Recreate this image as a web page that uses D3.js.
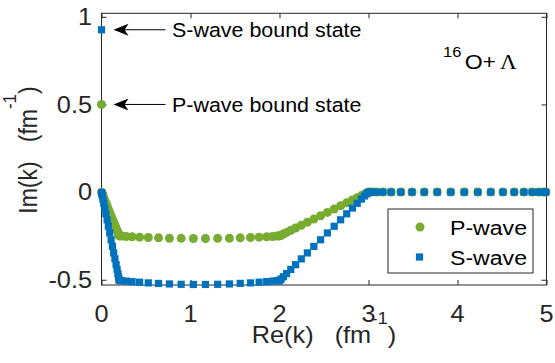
<!DOCTYPE html>
<html><head><meta charset="utf-8">
<script src="https://cdn.jsdelivr.net/npm/d3@7"></script>
<style>body{margin:0;background:#fff}svg{display:block}</style>
</head><body>
<svg id="c" width="555" height="363"></svg>
<script>
// ---- data ----
const xTicks = [0, 1, 2, 3, 4, 5];
const xTickLabels = ["0", "1", "2", "3", "4", "5"];
const yTicks = [-0.5, 0, 0.5, 1];
const yTickLabels = ["-0.5", "0", "0.5", "1"];
const seriesNames = ["P-wave", "S-wave"];

// bound states [Re, Im]
const pBound = [0, 0.5];
const sBound = [0, 0.926];

// P-wave contour points
const pRe = [
 0.001,0.004,0.009,0.016,0.025,0.036,0.049,0.063,0.077,0.092,0.108,0.123,0.137,0.151,0.164,0.175,0.184,0.191,0.196,0.199,
 0.206,0.232,0.279,0.344,0.428,0.526,0.641,0.763,0.895,1.032,1.168,1.305,1.437,1.559,1.674,1.771,1.856,1.921,1.968,1.994,
 2.004,2.018,2.044,2.080,2.127,2.181,2.245,2.313,2.386,2.462,2.538,2.614,2.687,2.755,2.819,2.873,2.920,2.956,2.982,2.997,
 3.007,3.036,3.088,3.161,3.254,3.363,3.489,3.626,3.772,3.924,4.076,4.228,4.374,4.511,4.637,4.746,4.839,4.912,4.964,4.993];
const pIm = [
 -0.001,-0.005,-0.011,-0.020,-0.032,-0.045,-0.061,-0.078,-0.097,-0.116,-0.135,-0.154,-0.172,-0.189,-0.205,-0.218,-0.230,-0.239,-0.246,-0.249,
 -0.250,-0.251,-0.253,-0.255,-0.257,-0.259,-0.261,-0.263,-0.264,-0.265,-0.265,-0.264,-0.263,-0.261,-0.259,-0.257,-0.255,-0.253,-0.251,-0.250,
 -0.249,-0.246,-0.239,-0.230,-0.218,-0.205,-0.189,-0.172,-0.154,-0.135,-0.116,-0.097,-0.078,-0.061,-0.045,-0.032,-0.020,-0.011,-0.005,-0.001,
 0,0,0,0,0,0,0,0,0,0,0,0,0,0,0,0,0,0,0,0];

// S-wave contour points
const sRe = [
 0.001,0.004,0.009,0.016,0.025,0.036,0.049,0.063,0.077,0.092,0.108,0.123,0.137,0.151,0.164,0.175,0.184,0.191,0.196,0.199,
 0.206,0.232,0.279,0.344,0.428,0.526,0.641,0.763,0.895,1.032,1.168,1.305,1.437,1.559,1.674,1.771,1.856,1.921,1.968,1.994,
 2.004,2.018,2.044,2.080,2.127,2.181,2.245,2.313,2.386,2.462,2.538,2.614,2.687,2.755,2.819,2.873,2.920,2.956,2.982,2.997,
 3.007,3.036,3.088,3.161,3.254,3.363,3.489,3.626,3.772,3.924,4.076,4.228,4.374,4.511,4.637,4.746,4.839,4.912,4.964,4.993];
const sIm = [
 -0.002,-0.009,-0.022,-0.040,-0.064,-0.091,-0.124,-0.158,-0.195,-0.233,-0.272,-0.310,-0.347,-0.381,-0.414,-0.441,-0.465,-0.483,-0.496,-0.503,
 -0.505,-0.506,-0.508,-0.511,-0.514,-0.518,-0.521,-0.524,-0.526,-0.527,-0.527,-0.526,-0.524,-0.521,-0.518,-0.514,-0.511,-0.508,-0.506,-0.505,
 -0.503,-0.496,-0.483,-0.465,-0.441,-0.414,-0.381,-0.347,-0.310,-0.272,-0.233,-0.195,-0.158,-0.124,-0.091,-0.064,-0.040,-0.022,-0.009,-0.002,
 0,0,0,0,0,0,0,0,0,0,0,0,0,0,0,0,0,0,0,0];

// ---- drawing ----
const green = "#77AC30", blue = "#0072BD", axc = "#262626";
const FONT = "'Liberation Sans', Arial, Helvetica, sans-serif";
const SX = 1.1; // horizontal stretch of the reference image
const L = 101.5, R = 546.5, T = 13.3, B = 285;
const x = d3.scaleLinear().domain([0, 5]).range([L, R]);
const y = d3.scaleLinear().domain([-0.53, 1.02]).range([B, T]);
const svg = d3.select("#c");

function txt(px, py, size, anchor, extra) {
  return svg.append("text")
    .attr("transform", `translate(${px},${py}) scale(${SX},1)` + (extra || ""))
    .attr("font-family", FONT).attr("font-size", size)
    .attr("fill", "#000").attr("text-anchor", anchor);
}

// axes box
svg.append("rect").attr("x", L).attr("y", T).attr("width", R - L).attr("height", B - T)
  .attr("fill", "#fff").attr("stroke", axc).attr("stroke-width", 1);

// axes with inward ticks (bottom/top, left/right)
const axB = d3.axisBottom(x).tickValues(xTicks).tickSize(-5).tickFormat("");
const axT = d3.axisTop(x).tickValues(xTicks).tickSize(-5).tickFormat("");
const axL = d3.axisLeft(y).tickValues(yTicks).tickSize(-5).tickFormat("");
const axR = d3.axisRight(y).tickValues(yTicks).tickSize(-5).tickFormat("");
[[axB, `translate(0,${B})`], [axT, `translate(0,${T})`], [axL, `translate(${L},0)`], [axR, `translate(${R},0)`]]
  .forEach(([a, t]) => {
    const g = svg.append("g").attr("transform", t).call(a);
    g.select(".domain").remove();
    g.selectAll("line").attr("stroke", axc);
  });

// tick labels
xTicks.forEach((v, i) => txt(x(v), 321.5, 23, "middle").text(xTickLabels[i]).attr("fill", axc));
yTicks.forEach((v, i) => txt(92, y(v) + 8.2, 23, "end").text(yTickLabels[i]).attr("fill", axc));

// axis labels
const xl = txt(324, 343.3, 23, "middle").attr("fill", axc);
xl.append("tspan").text("Re(k)\u00a0\u00a0\u00a0(fm");
xl.append("tspan").attr("font-size", 17).attr("dy", -19).text("-1");
xl.append("tspan").attr("dy", 19).text(")");

const yl = txt(37, 150, 23, "middle", " rotate(-90)").attr("fill", axc);
yl.append("tspan").text("Im(k)\u00a0\u00a0\u00a0(fm");
yl.append("tspan").attr("font-size", 17).attr("dy", -19).text("-1");
yl.append("tspan").attr("dy", 19).text(")");

// data points
const pts = (re, im) => re.map((v, i) => [v, im[i]]);
const pData = [pBound].concat(pts(pRe, pIm));
const sData = [sBound].concat(pts(sRe, sIm));

svg.append("g").selectAll("circle").data(pData).join("circle")
  .attr("cx", d => x(d[0])).attr("cy", d => y(d[1])).attr("r", 4.5).attr("fill", green);
svg.append("g").selectAll("rect").data(sData).join("rect")
  .attr("x", d => x(d[0]) - 3.6).attr("y", d => y(d[1]) - 3.6)
  .attr("width", 7.2).attr("height", 7.2).attr("fill", blue);

// annotations with arrows
function arrow(py, label) {
  const tip = x(0) + 12, end = tip + 52;
  svg.append("line").attr("x1", tip + 6).attr("x2", end).attr("y1", py).attr("y2", py)
    .attr("stroke", "#000").attr("stroke-width", 1);
  svg.append("path")
    .attr("d", `M${tip},${py} L${tip + 15},${py - 6} L${tip + 11},${py} L${tip + 15},${py + 6} Z`)
    .attr("fill", "#000");
  txt(172, py + 7.2, 19.5, "start").text(label);
}
arrow(y(sBound[1]), "S-wave bound state");
arrow(y(pBound[1]), "P-wave bound state");

// title 16O + Lambda
const tt = txt(443, 69.3, 21, "start");
tt.append("tspan").attr("font-size", 15).attr("dy", -12.6).text("16");
tt.append("tspan").attr("dy", 12.6).attr("dx", 3).text("O+");
txt(500, 69.3, 21, "start").attr("font-family", "'Liberation Serif', 'Times New Roman', serif").text("\u039b");

// legend
svg.append("rect").attr("x", 388).attr("y", 209).attr("width", 145).attr("height", 64)
  .attr("fill", "#fff").attr("stroke", axc).attr("stroke-width", 1);
svg.append("circle").attr("cx", 420).attr("cy", 227).attr("r", 4.5).attr("fill", green);
svg.append("rect").attr("x", 419.5 - 3.6).attr("y", 257 - 3.6).attr("width", 7.2).attr("height", 7.2).attr("fill", blue);
txt(450, 234.8, 21, "start").text(seriesNames[0]);
txt(450, 264.8, 21, "start").text(seriesNames[1]);
</script>
</body></html>
